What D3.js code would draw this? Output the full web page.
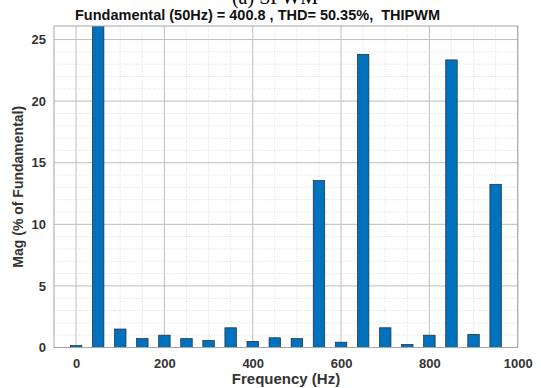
<!DOCTYPE html>
<html><head><meta charset="utf-8">
<script src="https://cdn.jsdelivr.net/npm/d3@7"></script>
<style>body{margin:0;background:#fff;}svg{display:block;}</style>
</head><body>
<script>
const freqs = [0,50,100,150,200,250,300,350,400,450,500,550,600,650,700,750,800,850,900,950];
const mags  = [0.16,100,1.5,0.73,1.0,0.73,0.57,1.6,0.5,0.79,0.73,13.55,0.43,23.8,1.6,0.25,1.0,23.35,1.07,13.25];
const xTicks = [0,200,400,600,800,1000];
const yTicks = [0,5,10,15,20,25];
const titleText = "Fundamental (50Hz) = 400.8 , THD= 50.35%,  THIPWM";
const topText = "(a) SPWM";

const W=541,H=388;
const m={l:54,r:23.3,t:26,b:40.5};
const svg=d3.select("body").append("svg").attr("width",W).attr("height",H);
const x=d3.scaleLinear().domain([-50,1000]).range([m.l,W-m.r]);
const y=d3.scaleLinear().domain([0,26.1]).range([H-m.b,m.t]);
const pw=W-m.r-m.l, ph=H-m.b-m.t;

svg.append("text").attr("x",275).attr("y",4).attr("text-anchor","middle")
  .style("font-family","'Liberation Serif','Times New Roman',serif").style("font-size","20px").text(topText);
svg.append("text").attr("x",75).attr("y",19.5).style("white-space","pre")
  .style("font-family","'Liberation Sans',Arial,sans-serif").style("font-size","14.5px").style("font-weight","bold").attr("fill","#111").text(titleText);

const g=svg.append("g");
g.append("rect").attr("x",m.l).attr("y",m.t).attr("width",pw).attr("height",ph).attr("fill","#fff");
// minor grid
const minorX=d3.range(0,1001,50).filter(v=>!xTicks.includes(v));
const minorY=d3.range(1,26,1).filter(v=>!yTicks.includes(v));
g.selectAll(".mx").data(minorX).join("line").attr("x1",d=>x(d)).attr("x2",d=>x(d)).attr("y1",m.t).attr("y2",H-m.b)
  .attr("stroke","#d4d4d4").attr("stroke-width",0.8).attr("stroke-dasharray","1,1.5");
g.selectAll(".my").data(minorY).join("line").attr("y1",d=>y(d)).attr("y2",d=>y(d)).attr("x1",m.l).attr("x2",W-m.r)
  .attr("stroke","#d4d4d4").attr("stroke-width",0.8).attr("stroke-dasharray","1,1.5");
// major grid
g.selectAll(".gx").data(xTicks).join("line").attr("x1",d=>x(d)).attr("x2",d=>x(d)).attr("y1",m.t).attr("y2",H-m.b)
  .attr("stroke","#bdbdbd").attr("stroke-width",1);
g.selectAll(".gy").data(yTicks).join("line").attr("y1",d=>y(d)).attr("y2",d=>y(d)).attr("x1",m.l).attr("x2",W-m.r)
  .attr("stroke","#bdbdbd").attr("stroke-width",1);

// bars
const bw = x(26)-x(0);
svg.append("clipPath").attr("id","c").append("rect").attr("x",m.l).attr("y",m.t).attr("width",pw).attr("height",ph);
g.append("g").attr("clip-path","url(#c)").selectAll("rect.bar").data(freqs).join("rect")
  .attr("x",(d)=>x(d)-bw/2).attr("width",bw)
  .attr("y",(d,i)=>y(Math.min(mags[i],27))).attr("height",(d,i)=>y(0)-y(Math.min(mags[i],27)))
  .attr("fill","#0072BD").attr("stroke","#1c2a38").attr("stroke-width",0.7);

// frame
g.append("rect").attr("x",m.l).attr("y",m.t).attr("width",pw).attr("height",ph).attr("fill","none").attr("stroke","#a6a6a6").attr("stroke-width",1);

// axes
const xa=svg.append("g").attr("transform",`translate(0,${H-m.b})`).call(d3.axisBottom(x).tickValues(xTicks).tickFormat(d3.format("d")).tickSize(0).tickPadding(11));
const ya=svg.append("g").attr("transform",`translate(${m.l},0)`).call(d3.axisLeft(y).tickValues(yTicks).tickFormat(d3.format("d")).tickSize(0).tickPadding(8));
[xa,ya].forEach(a=>{a.select(".domain").remove();a.selectAll("text").style("font-family","'Liberation Sans',Arial,sans-serif").style("font-size","13px").style("font-weight","bold").attr("fill","#333");});

svg.append("text").attr("x",286).attr("y",384).attr("text-anchor","middle")
  .style("font-family","'Liberation Sans',Arial,sans-serif").style("font-size","15px").style("font-weight","bold").attr("fill","#333").text("Frequency (Hz)");
svg.append("text").attr("transform",`translate(23,${(m.t+H-m.b)/2}) rotate(-90)`).attr("text-anchor","middle")
  .style("font-family","'Liberation Sans',Arial,sans-serif").style("font-size","14px").style("font-weight","bold").attr("fill","#333").text("Mag (% of Fundamental)");
</script>
</body></html>
